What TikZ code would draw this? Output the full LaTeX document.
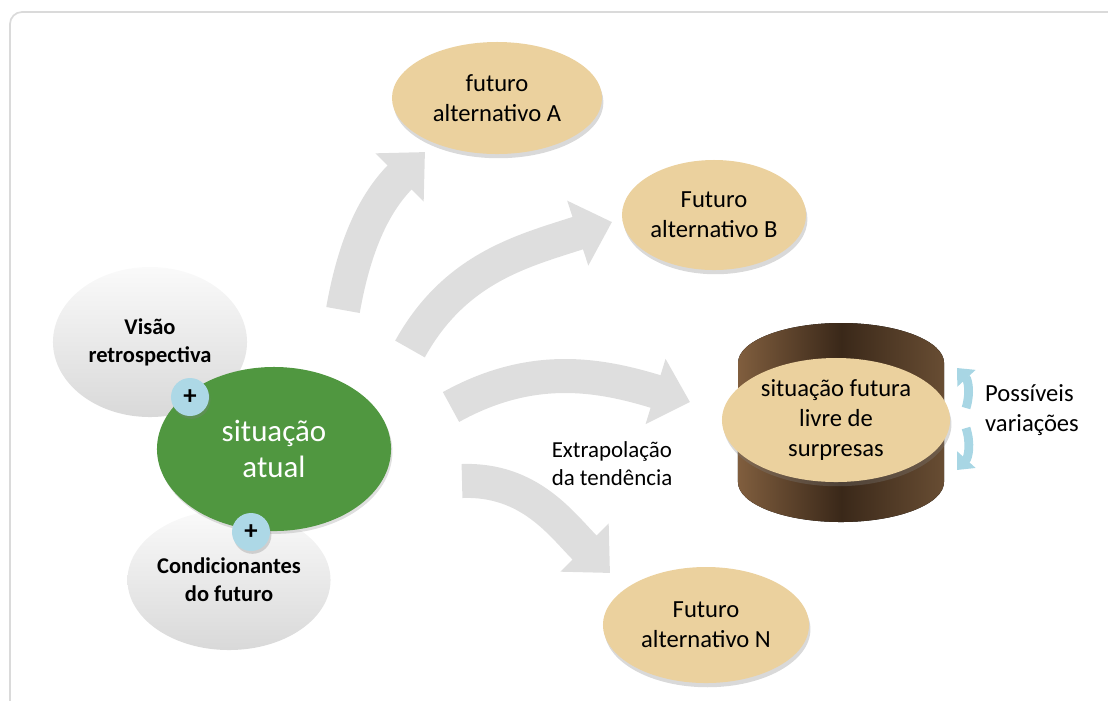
\documentclass[tikz,border=0pt]{standalone}
\usepackage{fontspec}
\setmainfont{Carlito}
\usetikzlibrary{shapes.geometric, arrows.meta, shadows}

\definecolor{tan}{RGB}{235,209,158}
\definecolor{leaf}{RGB}{80,151,64}
\definecolor{plusblue}{RGB}{173,216,230}
\definecolor{varblue}{RGB}{168,214,228}
\definecolor{arrowgray}{RGB}{222,222,222}
\definecolor{framegray}{RGB}{218,218,218}
\definecolor{browna}{RGB}{128,94,62}
\definecolor{brownb}{RGB}{58,40,25}
\definecolor{brownc}{RGB}{104,77,51}

\begin{document}
\begin{tikzpicture}[
    x=0.025cm, y=-0.025cm,
    fut/.style={ellipse, fill=tan, inner sep=0pt, align=center, font=\fontsize{17.5}{21.3}\selectfont, drop shadow={shadow xshift=1pt, shadow yshift=-3pt, opacity=0.3}},
    side/.style={ellipse, top color=black!2, bottom color=black!15, inner sep=0pt, align=center, font=\bfseries\fontsize{16}{20}\selectfont},
    core/.style={ellipse, fill=leaf, inner sep=0pt, align=center, text=white, font=\fontsize{22}{26}\selectfont, drop shadow={shadow xshift=1pt, shadow yshift=-2pt, opacity=0.25}},
    plus/.style={circle, fill=plusblue, minimum size=0.95cm, inner sep=0pt, font=\bfseries\fontsize{19}{19}\selectfont, drop shadow={shadow xshift=1pt, shadow yshift=-2pt, opacity=0.3}},
    note/.style={align=left, inner sep=0pt, font=\fontsize{17.5}{21.3}\selectfont},
    bigarrow/.style={draw=arrowgray, line width=0.85cm, -{Triangle[length=0.9cm, width=1.65cm]}},
    vararrow/.style={draw=varblue, line width=0.22cm, -{Triangle[length=0.35cm, width=0.6cm]}}
]

\useasboundingbox (0,0) rectangle (1108,700);
\clip (0,0) rectangle (1108,700);
\draw[framegray, line width=1.2pt, rounded corners=0.3cm] (10,12) rectangle (1140,730);

\node[fut, minimum width=5.25cm, minimum height=2.8cm] (futa) at (497,98) {futuro\\alternativo A};
\node[fut, minimum width=4.6cm, minimum height=2.75cm] (futb) at (714,215) {Futuro\\alternativo B};
\node[fut, minimum width=5.15cm, minimum height=2.9cm] (futn) at (706,625) {Futuro\\alternativo N};

\fill[left color=browna, right color=brownc, middle color=brownb]
    (738,363) arc[start angle=180, end angle=0, x radius=2.575cm, y radius=1cm]
    -- (944,482) arc[start angle=0, end angle=-180, x radius=2.575cm, y radius=1cm] -- cycle;
\node[fut, minimum width=5.7cm, minimum height=3.1cm] (livre) at (836,420) {situação futura\\livre de\\surpresas};

\node[side, minimum width=4.85cm, minimum height=3.75cm] (visao) at (150,342) {Visão\\retrospectiva};
\node[side, minimum width=4.7cm, minimum height=3.5cm] (cond) at (229,580) {Condicionantes\\do futuro};
\node[core, minimum width=5.85cm, minimum height=4.1cm] (atual) at (274,449) {situação\\atual};
\node[plus] (plusa) at (190,397) {+};
\node[plus] (plusb) at (251,532) {+};

\node[note, font=\fontsize{16.3}{20}\selectfont] (extrap) at (612,464) {Extrapolação\\da tendência};
\node[note] (var) at (1032,410) {Possíveis\\variações};

\coordinate (s1) at (343,310);
\coordinate (e1) at (425,152);
\coordinate (s2) at (410,349);
\coordinate (e2) at (612,222);
\coordinate (s3) at (451,407);
\coordinate (e3) at (690,402);
\coordinate (s4) at (462,481);
\coordinate (e4) at (610,573);
\coordinate (u1) at (966,408);
\coordinate (u2) at (957,368);
\coordinate (d1) at (966,428);
\coordinate (d2) at (957,470);

\draw[bigarrow] (s1) to[out=80, in=225] (e1);
\draw[bigarrow] (s2) to[out=61, in=198] (e2);
\draw[bigarrow] (s3) to[out=29, in=163] (e3);
\draw[bigarrow] (s4) to[out=2, in=135] (e4);
\draw[vararrow] (u1) to[bend right=30] (u2);
\draw[vararrow] (d1) to[bend left=30] (d2);

\end{tikzpicture}
\end{document}
